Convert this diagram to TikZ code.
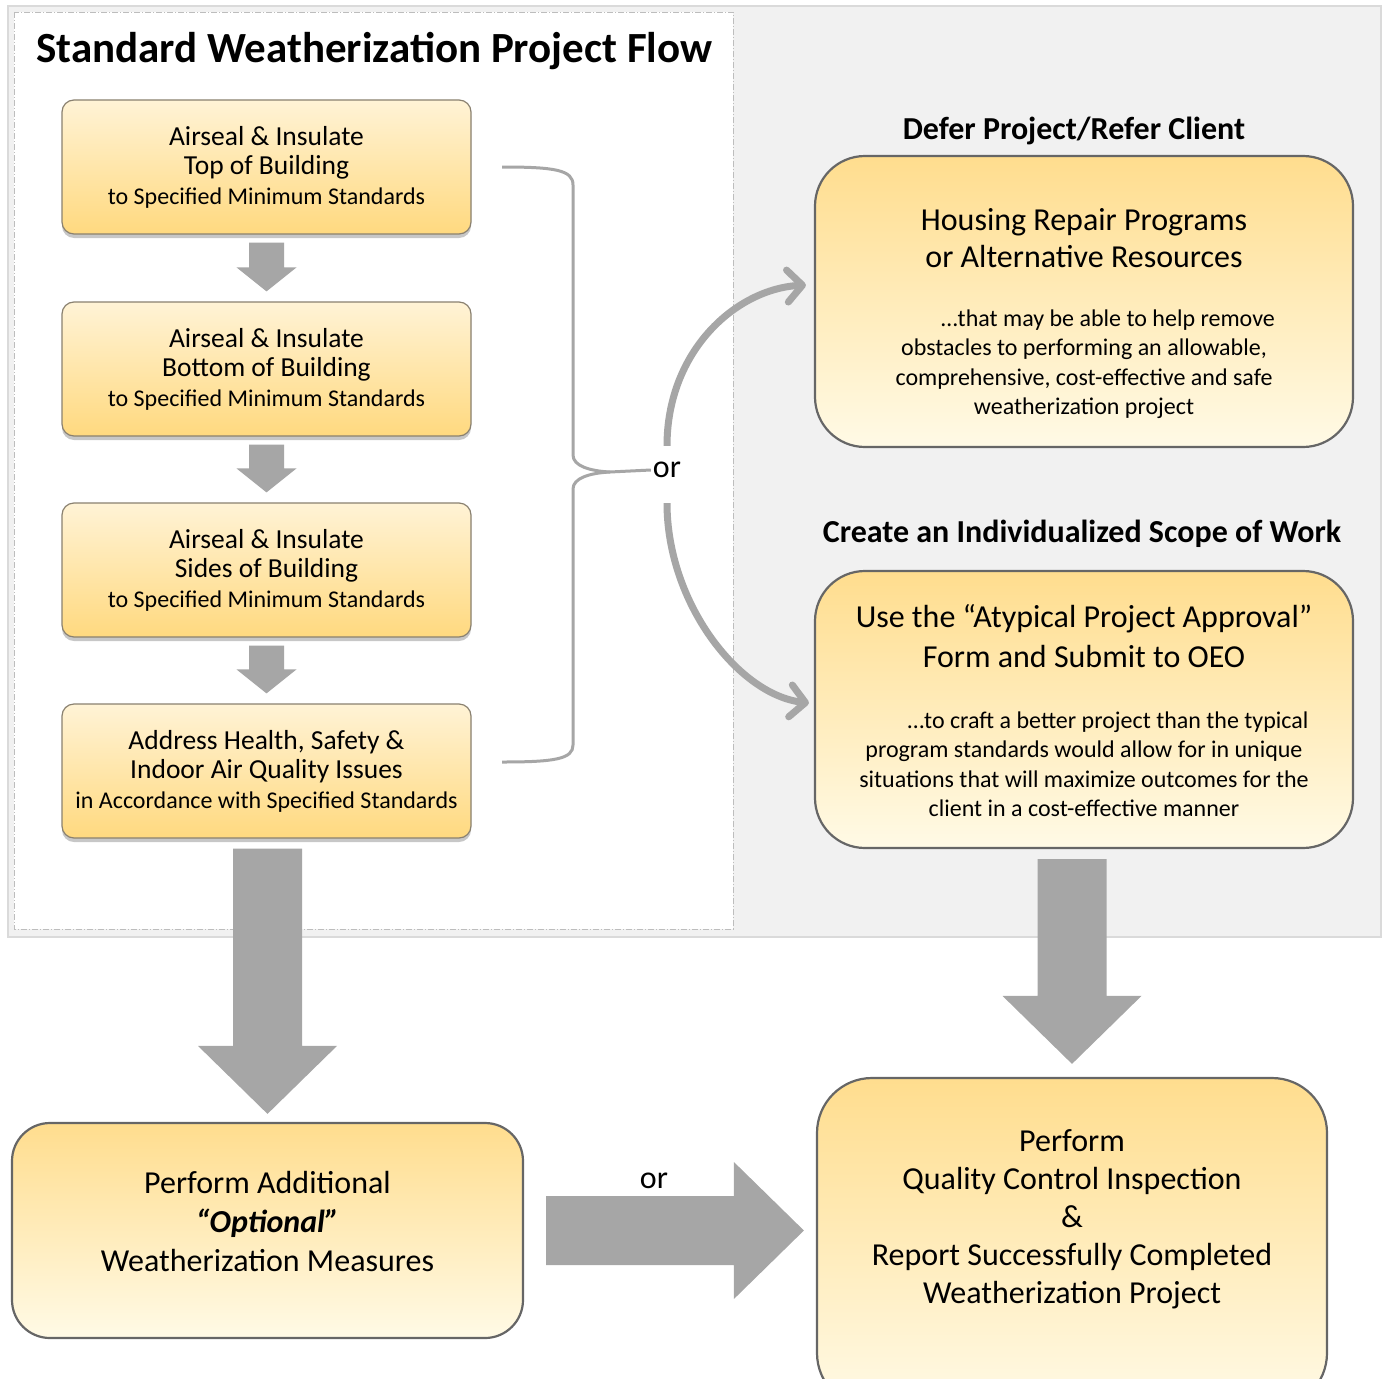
\documentclass[tikz,border=0pt]{standalone}
\usepackage{fontspec}
\setmainfont{Carlito}
\usetikzlibrary{arrows.meta,shadows,calc}

\definecolor{arrowgray}{HTML}{A6A6A6}
\definecolor{panelgray}{HTML}{F1F1F1}
\definecolor{panelline}{HTML}{DADADA}
\definecolor{dashgray}{HTML}{BDBDBD}
\definecolor{edgegray}{HTML}{666666}
\definecolor{stepedge}{HTML}{8A8170}
\definecolor{palecream}{HTML}{FFF3D6}
\definecolor{goldyellow}{HTML}{FFD97F}
\definecolor{lightcream}{HTML}{FFFAE6}
\definecolor{topgold}{HTML}{FFDD8E}

\newcommand{\fsize}[2]{\fontsize{#1}{#2}\selectfont}
\newcommand{\tightlines}{\lineskiplimit-50pt\relax}

\tikzset{
  stepbox/.style={draw=stepedge, line width=1.2pt, rounded corners=12pt,
    top color=palecream, bottom color=goldyellow,
    minimum width=409pt, minimum height=134pt, inner sep=0pt, align=center,
    font=\fsize{27.5}{29.5},
    drop shadow={shadow xshift=0pt, shadow yshift=-4pt, opacity=.22, fill=black}},
  optionbox/.style={draw=edgegray, line width=2.2pt, top color=topgold,
    bottom color=lightcream, inner sep=0pt},
  boxtext/.style={align=center, inner sep=0pt},
  heading/.style={font=\bfseries\fsize{32}{38}, inner sep=0pt},
  orlabel/.style={font=\fsize{32}{36}, inner sep=2pt},
  blockarrow/.style={fill=arrowgray},
  bendarrow/.style={draw=arrowgray, line width=7pt,
    -{Straight Barb[length=15pt,width=32pt,round]}},
  braceline/.style={draw=arrowgray, line width=3pt},
}

\begin{document}
\begin{tikzpicture}[x=1pt,y=-1pt]
\useasboundingbox (0,0) rectangle (1383,1378);
\clip (0,0) rectangle (1383,1378);

% panels
\filldraw[fill=panelgray, draw=panelline, line width=2pt] (8,6) rectangle (1381,937);
\filldraw[fill=white, draw=dashgray, line width=.8pt,
  dash pattern=on 6pt off 2pt on 1pt off 2pt] (14,12) rectangle (733,929);

\node[heading, font=\bfseries\fsize{43}{48}, anchor=west] (title) at (36,51)
  {Standard Weatherization Project Flow};

% standard steps
\node[stepbox] (s1) at (266.5,167) {Airseal \& Insulate\\Top of Building\\
  {\fsize{24}{29.5}to Specified Minimum Standards}};
\node[stepbox] (s2) at (266.5,369) {Airseal \& Insulate\\Bottom of Building\\
  {\fsize{24}{29.5}to Specified Minimum Standards}};
\node[stepbox] (s3) at (266.5,570) {Airseal \& Insulate\\Sides of Building\\
  {\fsize{24}{29.5}to Specified Minimum Standards}};
\node[stepbox] (s4) at (266.5,771) {Address Health, Safety \&\\Indoor Air Quality Issues\\
  {\fsize{24}{29.5}in Accordance with Specified Standards}};

\foreach \a/\b in {s1/s2,s2/s3,s3/s4}
  \fill[blockarrow] ($(\a.south)+(-17.5,8)$) -- ($(\a.south)+(17.5,8)$)
    -- ($(\b.north)+(17.5,-34)$) -- ($(\b.north)+(30,-34)$) -- ($(\b.north)+(0,-10)$)
    -- ($(\b.north)+(-30,-34)$) -- ($(\b.north)+(-17.5,-34)$) -- cycle;

% the two other ways
\node[heading] (defer) at (1074,131) {Defer Project/Refer Client};
\node[optionbox, rounded corners=50pt, minimum width=538pt, minimum height=291pt] (hr) at (1084,301.5) {};
\node[boxtext, font=\fsize{24}{29.5}\tightlines] (hrtext) at (1084,314)
  {{\fsize{32}{37}Housing Repair Programs}\\[7.5pt]
   {\fsize{32}{37}or Alternative Resources}\\[29pt]
   \hspace*{48pt}…that may be able to help remove\\
   obstacles to performing an allowable,\\
   comprehensive, cost-effective and safe\\
   weatherization project};

\node[heading] (scope) at (1082,534) {Create an Individualized Scope of Work};
\node[optionbox, rounded corners=50pt, minimum width=538pt, minimum height=277pt] (apa) at (1084,709.5) {};
\node[boxtext, font=\fsize{24}{29.5}\tightlines] (apatext) at (1084,711)
  {{\fsize{32}{37}Use the “Atypical Project Approval”}\\[10.5pt]
   {\fsize{32}{37}Form and Submit to OEO}\\[31pt]
   \hspace*{48pt}…to craft a better project than the typical\\
   program standards would allow for in unique\\
   situations that will maximize outcomes for the\\
   client in a cost-effective manner};

% bracket and or
\node[orlabel] (orlbl) at (667,470) {or};
\draw[braceline] (502,167) .. controls (555,167) and (573,170) .. (573,185) -- (573,455)
  .. controls (573,466) and (590,471) .. (610,472) -- (orlbl.west);
\draw[braceline] (610,472) .. controls (590,473) and (573,478) .. (573,489) -- (573,745)
  .. controls (573,759) and (555,762) .. (502,762);
\draw[bendarrow] ($(orlbl.north)+(0,-14)$) .. controls +(0,-95) and +(-70,4) .. ($(hr.west)+(-8,-16.5)$);
\draw[bendarrow] ($(orlbl.south)+(0,23)$) .. controls +(0,100) and +(-70,-8) .. ($(apa.west)+(-5,-6.5)$);

% final steps
\node[optionbox, rounded corners=38pt, minimum width=511pt, minimum height=215pt] (opt) at (267.5,1230.5) {};
\node[boxtext, font=\fsize{32}{39}] (opttext) at (267.5,1221)
  {Perform Additional\\{\bfseries\itshape “Optional”}\\Weatherization Measures};

\node[optionbox, rounded corners=55pt, minimum width=510pt, minimum height=330pt] (qc) at (1072,1243) {};
\node[boxtext, font=\fsize{32}{38}] (qctext) at (1072,1219)
  {Perform\\Quality Control Inspection\\\&\\Report Successfully Completed\\Weatherization Project};

\coordinate (lefttop) at (s4.south -| opt.north);
\fill[blockarrow] ($(lefttop)+(-34.5,10)$) -- ($(lefttop)+(34.5,10)$)
  -- ($(opt.north)+(34.5,-76)$) -- ($(opt.north)+(69.5,-76)$) -- ($(opt.north)+(0,-8)$)
  -- ($(opt.north)+(-69.5,-76)$) -- ($(opt.north)+(-34.5,-76)$) -- cycle;

\coordinate (righttop) at (apa.south -| qc.north);
\fill[blockarrow] ($(righttop)+(-34.5,10)$) -- ($(righttop)+(34.5,10)$)
  -- ($(qc.north)+(34.5,-81)$) -- ($(qc.north)+(69.5,-81)$) -- ($(qc.north)+(0,-13)$)
  -- ($(qc.north)+(-69.5,-81)$) -- ($(qc.north)+(-34.5,-81)$) -- cycle;

\coordinate (rightend) at (qc.west |- opt.east);
\fill[blockarrow] ($(opt.east)+(22,-34.5)$) -- ($(rightend)+(-82,-34.5)$)
  -- ($(rightend)+(-82,-68.5)$) -- ($(rightend)+(-12,0)$) -- ($(rightend)+(-82,68.5)$)
  -- ($(rightend)+(-82,34.5)$) -- ($(opt.east)+(22,34.5)$) -- cycle;
\node[orlabel] (orlow) at (654,1181) {or};
\end{tikzpicture}
\end{document}
